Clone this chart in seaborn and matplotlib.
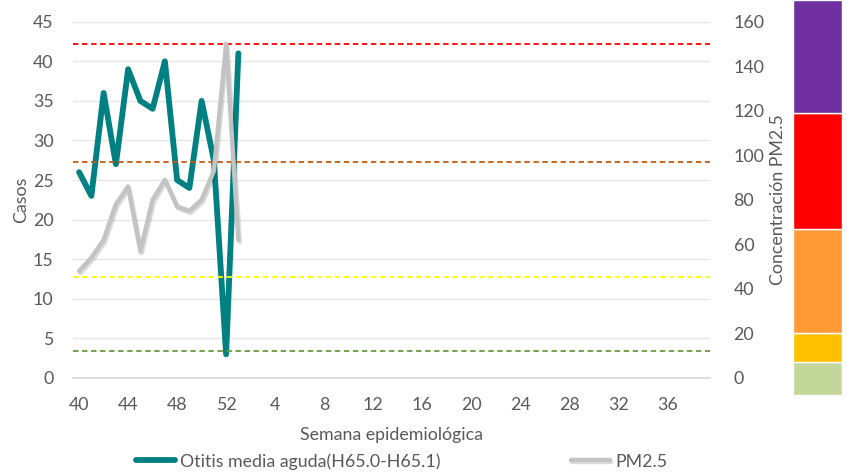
import numpy as np
import pandas as pd
import matplotlib
matplotlib.use("Agg")
import matplotlib.pyplot as plt
import seaborn as sns
from matplotlib import patheffects as pe

# semanas epidemiologicas (eje de categorias)
weeks = list(range(40, 53)) + list(range(1, 40))
# casos de otitis media aguda, semanas 40..52 y 1
otitis = [26, 23, 36, 27, 39, 35, 34, 40, 25, 24, 35, 27.5, 3, 41]
# concentracion PM2.5
pm25 = [48, 54, 62, 78, 86, 57, 80, 89, 77, 75, 80, 93, 150, 62]
# umbrales PM2.5 (lineas punteadas)
thresholds = [12, 45.5, 97, 150]
threshold_colors = ["#6A9A3F", "#FFFF00", "#C55A11", "#FF0000"]
# bandas de la escala de color (de abajo hacia arriba)
band_sizes = [33, 29, 104, 116, 113]
band_colors = ["#C4D79B", "#FFC000", "#FF9A35", "#FF0000", "#7030A0"]

txt = "#595959"
fs = 12.8
sns.set_theme(style="white")
plt.rcParams["font.family"] = ["Lato", "DejaVu Sans"]
plt.rcParams["text.color"] = txt
plt.rcParams["axes.labelcolor"] = txt
plt.rcParams["xtick.color"] = txt
plt.rcParams["ytick.color"] = txt

df = pd.DataFrame({"idx": np.arange(len(otitis)), "otitis": otitis, "pm": pm25})

fig = plt.figure(figsize=(8.47, 4.76), dpi=100)
ax = fig.add_axes([0.0862, 0.2059, 0.7520, 0.7485])
ax2 = ax.twinx()

sns.lineplot(data=df, x="idx", y="otitis", ax=ax, color="#008080", lw=4.2,
             label="Otitis media aguda(H65.0-H65.1)", legend=False)
sns.lineplot(data=df, x="idx", y="pm", ax=ax2, color="#C3C3C3", lw=3.2,
             label="PM2.5", legend=False,
             path_effects=[pe.SimpleLineShadow(offset=(1, -1.5), alpha=0.15), pe.Normal()])

for t, c in zip(thresholds, threshold_colors):
    ax2.axhline(t, color=c, ls=(0, (3, 2)), lw=1.3, zorder=1)

ax.set_xlim(-0.5, len(weeks) - 0.5)
ax.set_ylim(0, 45)
ax.set_yticks(range(0, 46, 5))
ax2.set_ylim(0, 160)
ax2.set_yticks(range(0, 161, 20))
ax.set_xticks(range(0, len(weeks), 4))
ax.set_xticklabels([weeks[i] for i in range(0, len(weeks), 4)])
ax.tick_params(axis="y", labelsize=fs, length=0, pad=14)
ax.tick_params(axis="x", labelsize=fs, length=0, pad=14)
ax2.tick_params(axis="y", labelsize=fs, length=0, pad=17)

ax.grid(axis="y", color="#E6E6E6", lw=1)
ax.grid(axis="x", visible=False)
ax2.grid(False)
for a in (ax, ax2):
    for s in a.spines.values():
        s.set_visible(False)
ax.spines["bottom"].set_visible(True)
ax.spines["bottom"].set_color("#D9D9D9")

ax.set_xlabel("Semana epidemiológica", fontsize=fs, labelpad=10)
ax.set_ylabel("Casos", fontsize=fs, labelpad=3)
ax2.set_ylabel("Concentración PM2.5", fontsize=fs, labelpad=4)

h1, l1 = ax.get_legend_handles_labels()
h2, l2 = ax2.get_legend_handles_labels()
fig.legend(h1 + h2, l1 + l2, loc="lower center", bbox_to_anchor=(0.474, -0.02),
           ncol=2, frameon=False, fontsize=fs, handlelength=2.2,
           columnspacing=7.3, handletextpad=0.3)

# escala de color a la derecha
cb = fig.add_axes([0.936, 0.170, 0.058, 0.830])
bottoms = np.cumsum([0] + band_sizes[:-1])
cb.bar([0] * len(band_sizes), band_sizes, bottom=bottoms, color=band_colors, width=1)
cb.set_xlim(-0.5, 0.5)
cb.set_ylim(0, sum(band_sizes))
cb.axis("off")

fig.savefig("out.png", dpi=100)
